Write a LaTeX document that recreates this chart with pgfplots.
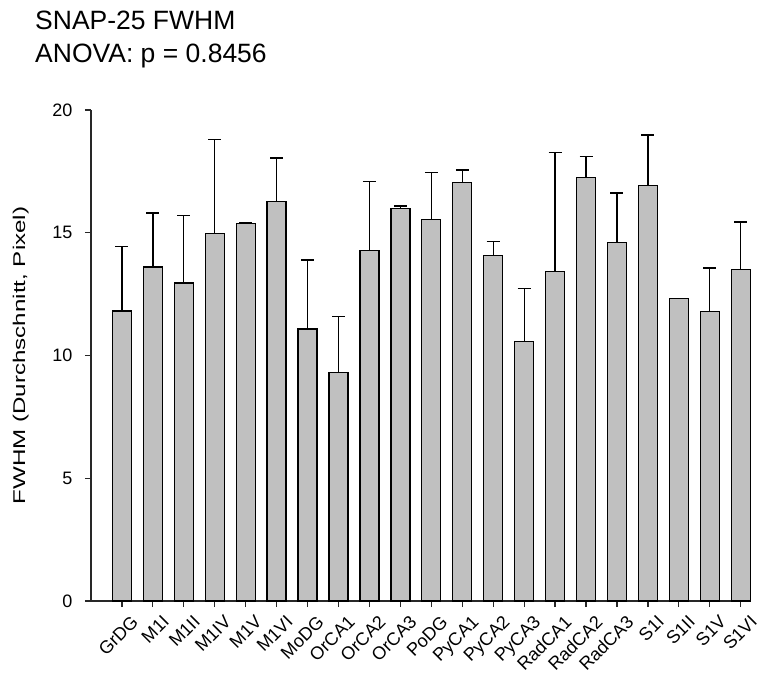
\documentclass[border=0pt]{standalone}
\usepackage{pgfplots}
\pgfplotsset{compat=1.18}
\usepackage{pgfplotstable}
\usepackage{fontspec}
\setmainfont{Liberation Sans}
\definecolor{bargray}{RGB}{192,192,192}
\definecolor{axisgray}{RGB}{40,40,40}
\pgfplotstableread{
x y e
0 11.81 2.62
1 13.60 2.20
2 12.95 2.76
3 14.96 3.84
4 15.38 0.03
5 16.28 1.77
6 11.08 2.81
7 9.31 2.27
8 14.27 2.81
9 16.00 0.09
10 15.55 1.90
11 17.05 0.51
12 14.07 0.57
13 10.56 2.18
14 13.42 4.84
15 17.24 0.86
16 14.61 2.01
17 16.93 2.05
18 12.33 0.00
19 11.79 1.77
20 13.50 1.94
}\datatable
\begin{document}
\begin{tikzpicture}
\useasboundingbox (0pt,0pt) rectangle (760pt,675pt);
\node[anchor=base west, inner sep=0pt, font=\fontsize{26.5}{33}\selectfont] at (35pt,645pt) {SNAP-25 FWHM};
\node[anchor=base west, inner sep=0pt, font=\fontsize{26.5}{33}\selectfont] at (35pt,612pt) {ANOVA: p = 0.8456};
\begin{axis}[
  at={(91pt,74pt)}, anchor=south west,
  scale only axis, width=659pt, height=491pt,
  xmin=-1, xmax=20.3, ymin=0, ymax=20,
  axis x line*=bottom, axis y line*=left,
  axis line style={line width=1.2pt, axisgray},
  tick align=outside, major tick length=6pt,
  tick style={line width=1.2pt, axisgray},
  ytick={0,5,10,15,20},
  xtick={0,...,20},
  xticklabels={GrDG,M1I,M1II,M1IV,M1V,M1VI,MoDG,OrCA1,OrCA2,OrCA3,PoDG,PyCA1,PyCA2,PyCA3,RadCA1,RadCA2,RadCA3,S1I,S1II,S1V,S1VI},
  /pgf/number format/assume math mode=true,
  yticklabel style={font=\fontsize{18}{21}\selectfont, xshift=-9pt},
  xticklabel style={font=\fontsize{18}{21}\selectfont, rotate=45, anchor=north east, inner sep=1pt, xshift=2pt, yshift=-10pt},
  ylabel={\scalebox{1.42}[1]{FWHM (Durchschnitt, Pixel)}},
  ylabel style={font=\fontsize{17}{20}\selectfont, yshift=17pt},
  clip=false,
]
\addplot[ybar, bar width=19pt, fill=bargray, draw=black, line width=1.3pt,
  error bars/.cd, y dir=plus, y explicit,
  error bar style={line width=1.3pt, black},
  error mark options={line width=1.3pt, black, mark size=6.5pt, rotate=90}]
  table[x=x, y=y, y error=e] {\datatable};
\end{axis}
\end{tikzpicture}
\end{document}
